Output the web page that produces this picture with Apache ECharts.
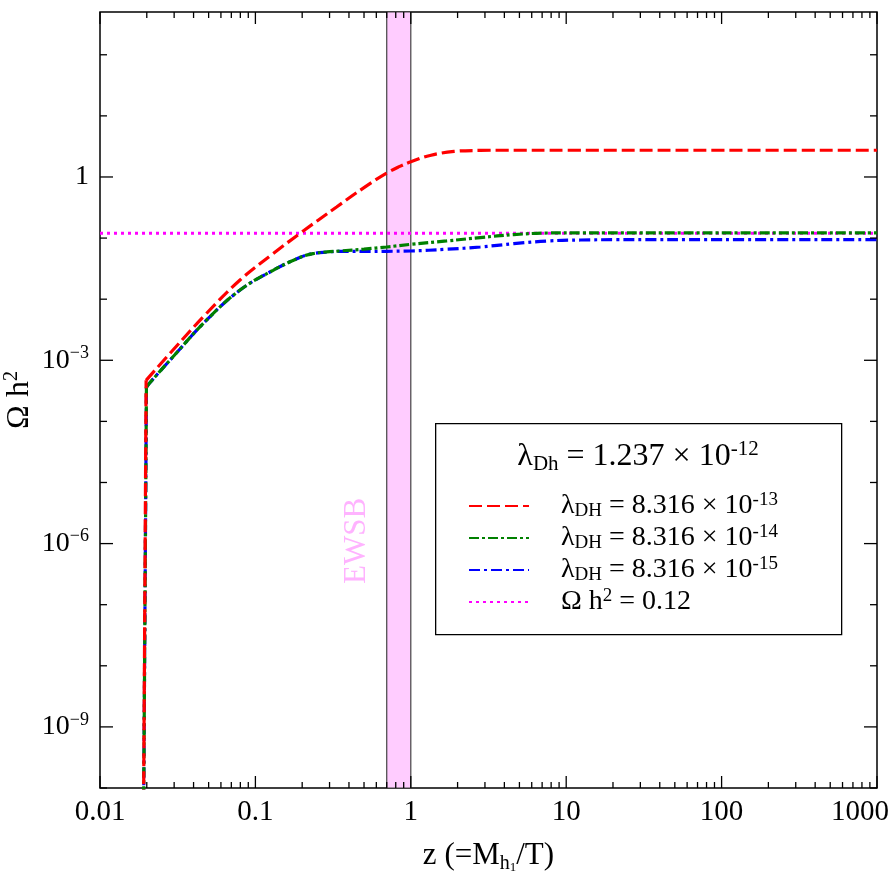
<!DOCTYPE html>
<html>
<head>
<meta charset="utf-8">
<script src="https://cdn.jsdelivr.net/npm/echarts@6/dist/echarts.min.js"></script>
<style>
html, body { margin: 0; padding: 0; background: #fff; }
#chart { width: 888px; height: 890px; }
</style>
</head>
<body>
<div id="chart"></div>
<script>
// values (z, Omega h^2)
var xRed = [0.0189, 0.0198, 0.0294, 0.0483, 0.0793, 0.130, 0.193, 0.333, 0.5, 0.7, 0.85, 1.0, 1.33, 1.9, 2.8, 4, 10, 100, 1000];
var yRed = [1e-12, 4.7e-4, 1.46e-3, 5.8e-3, 0.0204, 0.0557, 0.1186, 0.323, 0.67, 1.16, 1.49, 1.77, 2.25, 2.62, 2.72, 2.74, 2.74, 2.74, 2.74];

var xGreen = [0.0189, 0.0199, 0.0208, 0.0294, 0.0483, 0.0793, 0.130, 0.193, 0.235, 0.287, 0.35, 0.5, 0.7, 1.0, 1.7, 2.8, 4.6, 7.6, 12.4, 100, 1000];
var yGreen = [1e-12, 3.6e-4, 4.2e-4, 1.13e-3, 4.5e-3, 0.014, 0.0297, 0.048, 0.0557, 0.0593, 0.0615, 0.066, 0.0715, 0.079, 0.0897, 0.102, 0.114, 0.121, 0.122, 0.122, 0.122];

var xBlue = [0.0189, 0.0199, 0.0208, 0.0294, 0.0483, 0.0793, 0.130, 0.193, 0.235, 0.287, 0.35, 0.5, 0.7, 1.0, 1.7, 2.8, 4.6, 7.6, 12.4, 20, 100, 1000];
var yBlue = [1e-12, 3.6e-4, 4.2e-4, 1.13e-3, 4.5e-3, 0.014, 0.0297, 0.048, 0.0557, 0.0590, 0.0605, 0.0605, 0.0608, 0.0615, 0.0656, 0.0715, 0.081, 0.0897, 0.093, 0.094, 0.094, 0.094];

var xRelic = [0.01, 1000];
var yRelic = [0.12, 0.12];

var ewsbRange = [0.7, 1.0];

// axis ranges and ticks
var xRange = [0.01, 1000];
var yRangeExp = [-10, 2.7];
var xTickDecades = [0.01, 0.1, 1, 10, 100, 1000];
var xMinorMult = [2, 3, 4, 5, 6, 7, 8, 9];
var yTickExps = [-10, -9, -8, -7, -6, -5, -4, -3, -2, -1, 0, 1, 2];
var yLabelExps = [-9, -6, -3, 0];

var seriesNames = ['red13', 'green14', 'blue15', 'relic'];
var legendLabels = {
    red13: '{pad|}λ{sub|DH} = 8.316 × 10{sup|-13}',
    green14: '{pad|}λ{sub|DH} = 8.316 × 10{sup|-14}',
    blue15: '{pad|}λ{sub|DH} = 8.316 × 10{sup|-15}',
    relic: '{pad|}Ω h{sup|2} = 0.12'
};

var FONT = 'Liberation Serif';
var lg = Math.log10;

function toLog(xs, ys) {
    var out = [];
    for (let i = 0; i < xs.length; i++) {
        out.push([lg(xs[i]), lg(ys[i])]);
    }
    return out;
}

// each curve: the steep jump at freeze-in is drawn straight, the rest smoothed
function curveSeries(name, xs, ys, nJump, color, dash, z) {
    var pts = toLog(xs, ys);
    var base = {
        name: name, type: 'line', symbol: 'none', z: z,
        lineStyle: { color: color, width: 3.2, type: dash },
        itemStyle: { color: color }
    };
    var jump = Object.assign({}, base, { data: pts.slice(0, nJump) });
    var rest = Object.assign({}, base, { data: pts.slice(nJump - 1), smooth: 0.4 });
    return [jump, rest];
}

// tick list for custom series: [kind(0=x,1=y), log value, length]
var tickData = [];
for (let i = 0; i < xTickDecades.length; i++) {
    tickData.push([0, lg(xTickDecades[i]), 12]);
    if (i < xTickDecades.length - 1) {
        for (let k = 0; k < xMinorMult.length; k++) {
            tickData.push([0, lg(xTickDecades[i] * xMinorMult[k]), 6]);
        }
    }
}
for (let i = 0; i < yTickExps.length; i++) {
    var big = yLabelExps.indexOf(yTickExps[i]) >= 0;
    tickData.push([1, yTickExps[i], big ? 13 : 7]);
}

function renderTick(params, api) {
    var cs = params.coordSys;
    var kind = api.value(0), v = api.value(1), len = api.value(2);
    var st = { stroke: '#000', lineWidth: 1.3 };
    if (kind === 0) {
        var px = api.coord([v, 0])[0];
        var yb = cs.y + cs.height, yt = cs.y;
        return {
            type: 'group', children: [
                { type: 'line', shape: { x1: px, y1: yb, x2: px, y2: yb - len }, style: st },
                { type: 'line', shape: { x1: px, y1: yt, x2: px, y2: yt + len }, style: st }
            ]
        };
    }
    var py = api.coord([0, v])[1];
    var xl = cs.x, xr = cs.x + cs.width;
    return {
        type: 'group', children: [
            { type: 'line', shape: { x1: xl, y1: py, x2: xl + len, y2: py }, style: st },
            { type: 'line', shape: { x1: xr, y1: py, x2: xr - len, y2: py }, style: st }
        ]
    };
}

var xLabelText = ['0.01', '0.1', '1', '10', '100', '1000{sp|}'];

var series = [
    {
        name: 'band', type: 'line', data: [], z: 1, silent: true,
        markArea: {
            silent: true,
            itemStyle: { color: '#ffccff', borderColor: '#444', borderWidth: 1.2 },
            data: [[{ xAxis: lg(ewsbRange[0]) }, { xAxis: lg(ewsbRange[1]) }]]
        }
    },
    {
        name: 'relic', type: 'line', symbol: 'none', z: 2,
        data: toLog(xRelic, yRelic),
        lineStyle: { color: '#ff00ff', width: 3.2, type: [3, 4] },
        itemStyle: { color: '#ff00ff' }
    }
];
series = series.concat(
    curveSeries('blue15', xBlue, yBlue, 2, '#0000ff', [11, 4, 3, 4], 3),
    curveSeries('green14', xGreen, yGreen, 2, '#008000', [10, 3, 3, 3], 4),
    curveSeries('red13', xRed, yRed, 2, '#ff0000', [13, 5], 5)
);
series.push({
    name: 'ticks', type: 'custom', z: 10, silent: true,
    data: tickData,
    renderItem: renderTick
});

var option = {
    animation: false,
    backgroundColor: '#fff',
    grid: {
        left: 100, top: 12, right: 11, bottom: 102,
        outerBoundsMode: 'none', containLabel: false,
        show: true, borderColor: '#000', borderWidth: 1.5, backgroundColor: 'transparent'
    },
    xAxis: {
        type: 'value', min: lg(xRange[0]), max: lg(xRange[1]), interval: 1,
        axisLine: { show: false }, axisTick: { show: false }, splitLine: { show: false },
        axisLabel: {
            margin: 8, fontFamily: FONT, fontSize: 29, color: '#000', lineHeight: 32,
            formatter: function (v) {
                var i = Math.round(v) + 2;
                return Math.abs(v - Math.round(v)) < 1e-6 ? xLabelText[i] : '';
            },
            rich: { sp: { width: 34 } }
        },
        name: 'z (=M{sub|h}{sub2|1}/T)',
        nameLocation: 'middle', nameGap: 50, nameMoveOverlap: false,
        nameTextStyle: {
            fontFamily: FONT, fontSize: 31, color: '#000', lineHeight: 36,
            rich: {
                sub: { fontFamily: FONT, fontSize: 20, verticalAlign: 'bottom', lineHeight: 26, color: '#000' },
                sub2: { fontFamily: FONT, fontSize: 13, verticalAlign: 'bottom', lineHeight: 18, color: '#000' }
            }
        }
    },
    yAxis: {
        type: 'value', min: yRangeExp[0], max: yRangeExp[1], interval: 1,
        axisLine: { show: false }, axisTick: { show: false }, splitLine: { show: false },
        axisLabel: {
            margin: 11, fontFamily: FONT, fontSize: 28, color: '#000', lineHeight: 32,
            showMaxLabel: false,
            formatter: function (v) {
                var r = Math.round(v);
                if (Math.abs(v - r) > 1e-6 || yLabelExps.indexOf(r) < 0) return '';
                if (r === 0) return '1';
                return '10{sup|\u2212' + (-r) + '}';
            },
            rich: {
                sup: { fontFamily: FONT, fontSize: 18, verticalAlign: 'top', lineHeight: 21, color: '#000' }
            }
        },
        name: 'Ω h{sup|2}',
        nameLocation: 'middle', nameGap: 62, nameRotate: 90, nameMoveOverlap: false,
        nameTextStyle: {
            fontFamily: FONT, fontSize: 32, color: '#000', lineHeight: 36,
            rich: {
                sup: { fontFamily: FONT, fontSize: 20, verticalAlign: 'top', lineHeight: 22, color: '#000' }
            }
        }
    },
    legend: {
        data: seriesNames,
        orient: 'vertical',
        left: 468, top: 491, z: 20,
        itemWidth: 60, itemHeight: 14, itemGap: 2,
        padding: 0,
        itemStyle: { opacity: 0 },
        formatter: function (name) { return legendLabels[name]; },
        textStyle: {
            fontFamily: FONT, fontSize: 28, color: '#000', lineHeight: 30,
            rich: {
                pad: { width: 27 },
                sub: { fontFamily: FONT, fontSize: 19, verticalAlign: 'bottom', lineHeight: 22, color: '#000' },
                sup: { fontFamily: FONT, fontSize: 19, verticalAlign: 'top', lineHeight: 22, color: '#000' }
            }
        }
    },
    graphic: [
        {
            type: 'rect', left: 435, top: 423, z: 1,
            shape: { width: 406, height: 211 },
            style: { fill: '#fff', stroke: '#000', lineWidth: 1.3 }
        },
        {
            type: 'text', x: 638, y: 457, z: 2,
            style: {
                text: 'λ{sub|Dh} = 1.237 × 10{sup|-12}',
                fontFamily: FONT, fontSize: 32, fill: '#000', lineHeight: 36,
                align: 'center', verticalAlign: 'middle',
                rich: {
                    sub: { fontFamily: FONT, fontSize: 21, verticalAlign: 'bottom', lineHeight: 24, fill: '#000' },
                    sup: { fontFamily: FONT, fontSize: 21, verticalAlign: 'top', lineHeight: 24, fill: '#000' }
                }
            }
        },
        {
            type: 'text', x: 357, y: 541, rotation: Math.PI / 2, z: 2,
            style: {
                text: 'EWSB', fontFamily: FONT, fontSize: 31, fill: '#ffb3ff',
                align: 'center', verticalAlign: 'middle'
            }
        }
    ],
    series: series
};

var myChart = echarts.init(document.getElementById('chart'));
myChart.setOption(option);
</script>
</body>
</html>
